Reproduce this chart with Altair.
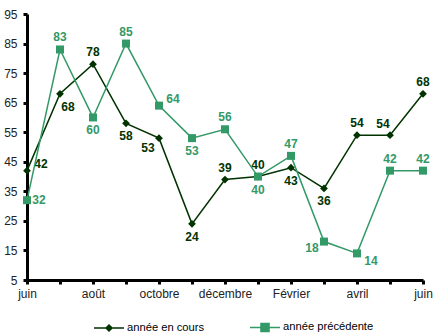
import json
import altair as alt
import pandas as pd

# Months from June to June (13 points, every other one labelled on the axis)
months = ["juin", "juillet", "août", "septembre", "octobre", "novembre",
          "décembre", "janvier", "Février", "mars", "avril", "mai", "juin"]
current_year = [42, 68, 78, 58, 53, 24, 39, 40, 43, 36, 54, 54, 68]
previous_year = [32, 83, 60, 85, 64, 53, 56, 40, 47, 18, 14, 42, 42]
series_names = ["année en cours", "année précédente"]

# Where each value label sits relative to its point
current_label_pos = ["ar", "br", "a", "b", "bl", "b", "a", "a", "b", "b", "a", "al", "a"]
previous_label_pos = ["r", "a", "b", "a", "ar", "b", "a", "b", "a", "lb", "rb", "a", "a"]

# Styling
colors = ["#003300", "#339966"]
marker_shapes = ["diamond", "square"]
marker_sizes = [60, 64]
legend_paths = [
    "M-1,0H1M0,-0.2L0.2,0L0,0.2L-0.2,0Z",
    "M-1,0H1M-0.27,-0.27H0.27V0.27H-0.27Z",
]
label_offsets = {
    "a": (0, -12), "b": (0, 13), "r": (12, 0), "l": (-12, 0),
    "ar": (14, -7), "al": (-7, -11), "br": (8, 13), "bl": (-11, 10),
    "lb": (-12, 6), "rb": (14, 8),
}
FONT = "Liberation Sans"

rows = []
for name, vals, pos in zip(series_names, [current_year, previous_year],
                           [current_label_pos, previous_label_pos]):
    for i, (v, p) in enumerate(zip(vals, pos)):
        rows.append({"series": name, "idx": i, "month": months[i], "value": v, "pos": p})
df = pd.DataFrame(rows)

month_array = json.dumps(months, ensure_ascii=False)
x_enc = alt.X(
    "idx:Q",
    scale=alt.Scale(domain=[0, len(months) - 1], nice=False, zero=False),
    axis=alt.Axis(
        values=list(range(len(months))),
        labelExpr=f"datum.value % 2 == 0 ? {month_array}[datum.value] : ''",
        labelOverlap=False,
        labelFlush=False,
        title=None,
    ),
)
y_enc = alt.Y(
    "value:Q",
    scale=alt.Scale(domain=[5, 95], nice=False, zero=False),
    axis=alt.Axis(values=list(range(5, 96, 10)), title=None, labelPadding=6),
)

base = alt.Chart(df)
layers = []
for name, color, shape, size in zip(series_names, colors, marker_shapes, marker_sizes):
    s = base.transform_filter(alt.datum.series == name)
    layers.append(s.mark_line(color=color, strokeWidth=1.5).encode(x=x_enc, y=y_enc))
    layers.append(
        s.mark_point(filled=True, color=color, shape=shape, size=size, opacity=1)
        .encode(x=x_enc, y=y_enc)
    )
    for code, (dx, dy) in label_offsets.items():
        layers.append(
            s.transform_filter(alt.datum.pos == code)
            .mark_text(dx=dx, dy=dy, color=color, font=FONT, fontSize=12,
                       fontWeight="bold", align="center", baseline="middle")
            .encode(x=x_enc, y=y_enc, text="value:Q")
        )

# Legend: line-with-marker symbols driven by explicit scale domains
legend_def = alt.Legend(
    title=None, orient="none", legendX=66, legendY=297, direction="horizontal",
    symbolSize=900, symbolStrokeWidth=1.5, labelFont=FONT, labelFontSize=11.2,
    labelColor="black", columnPadding=42, labelOffset=2, padding=0,
)
legend_layer = (
    base.transform_filter("false")
    .mark_point(filled=True, size=900, strokeWidth=1.5, opacity=1)
    .encode(
        color=alt.Color("series:N", scale=alt.Scale(domain=series_names, range=colors), legend=legend_def),
        stroke=alt.Stroke("series:N", scale=alt.Scale(domain=series_names, range=colors), legend=legend_def),
        shape=alt.Shape("series:N", scale=alt.Scale(domain=series_names, range=legend_paths), legend=legend_def),
    )
)
layers.append(legend_layer)

chart = (
    alt.layer(*layers)
    .properties(
        width=396, height=266,
        autosize=alt.AutoSizeParams(type="none"),
        padding={"left": 27, "top": 14, "right": 11, "bottom": 53},
        background="white",
    )
    .configure_view(stroke=None)
    .configure_axis(
        grid=False, domainColor="black", domainWidth=3, tickColor="black",
        tickWidth=3, tickSize=4, labelFont=FONT, labelFontSize=12,
        labelColor="#222222", labelPadding=4,
    )
)

chart.save("out.html", embed_options={"renderer": "svg", "actions": False})
